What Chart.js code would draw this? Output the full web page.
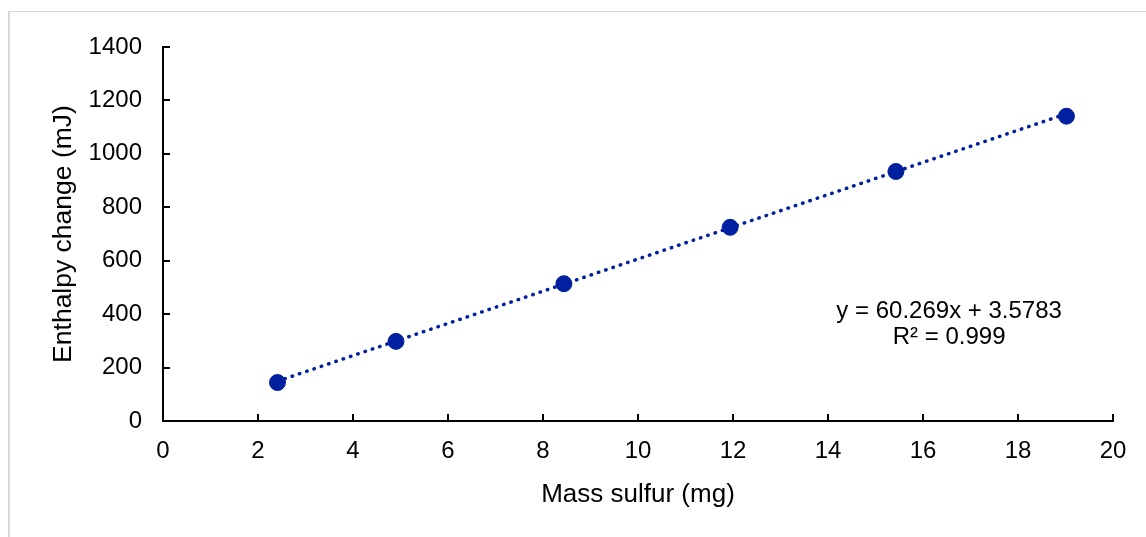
<!DOCTYPE html>
<html>
<head>
<meta charset="utf-8">
<title>Enthalpy change vs mass sulfur</title>
<script src="https://cdn.jsdelivr.net/npm/chart.js@4/dist/chart.umd.min.js"></script>
<style>
  html, body { margin: 0; padding: 0; background: #fff; }
  #wrap { position: relative; width: 1146px; height: 537px; overflow: hidden; }
  #frame { position: absolute; left: 8px; top: 11px; width: 1200px; height: 600px;
           border-left: 2px solid #d9d9d9; border-top: 1px solid #d9d9d9; }
  canvas { position: absolute; left: 0; top: 0; }
</style>
</head>
<body>
<div id="wrap">
  <div id="frame"></div>
  <canvas id="chart" width="1146" height="537"></canvas>
</div>
<script>
// measured points
const massSulfur = [2.41, 4.905, 8.44, 11.94, 15.43, 19.02];
const enthalpy = [144, 298, 514, 725, 934, 1141];

// linear trendline ends, as drawn
const trendX = [2.41, 19.02];
const trendY = [149, 1150];

const equationLines = ["y = 60.269x + 3.5783", "R\u00b2 = 0.999"];

const FONT = "'Liberation Sans', Arial, sans-serif";
const BLUE = "#00209f";

// ticks point inwards, Excel style
const innerTicks = {
  id: "innerTicks",
  afterDraw(chart) {
    const ctx = chart.ctx;
    const x = chart.scales.x, y = chart.scales.y;
    const area = chart.chartArea;
    ctx.save();
    ctx.strokeStyle = "#000";
    ctx.lineWidth = 2;
    ctx.beginPath();
    x.ticks.forEach(t => {
      const px = Math.round(x.getPixelForValue(t.value));
      ctx.moveTo(px, area.bottom);
      ctx.lineTo(px, area.bottom - 7);
    });
    y.ticks.forEach(t => {
      const py = Math.round(y.getPixelForValue(t.value));
      ctx.moveTo(area.left, py);
      ctx.lineTo(area.left + 7, py);
    });
    ctx.stroke();

    // trendline label
    ctx.fillStyle = "#000";
    ctx.font = "24px " + FONT;
    ctx.textAlign = "center";
    ctx.textBaseline = "middle";
    const lx = x.getPixelForValue(16.55);
    ctx.fillText(equationLines[0], lx, y.getPixelForValue(410));
    ctx.fillText(equationLines[1], lx, y.getPixelForValue(313));
    ctx.restore();
  }
};

new Chart(document.getElementById("chart"), {
  type: "scatter",
  data: {
    datasets: [
      {
        label: "Trend",
        data: trendX.map((v, i) => ({ x: v, y: trendY[i] })),
        showLine: true,
        borderColor: BLUE,
        borderWidth: 3.5,
        borderDash: [0.5, 7.2],
        borderCapStyle: "round",
        pointRadius: 0,
        order: 2
      },
      {
        label: "Data",
        data: massSulfur.map((v, i) => ({ x: v, y: enthalpy[i] })),
        backgroundColor: BLUE,
        borderColor: BLUE,
        pointRadius: 8,
        order: 1
      }
    ]
  },
  options: {
    responsive: false,
    animation: false,
    layout: { padding: { top: 47, right: 33, left: 0, bottom: 0 } },
    plugins: { legend: { display: false }, tooltip: { enabled: false } },
    scales: {
      x: {
        type: "linear",
        min: 0, max: 20,
        ticks: { stepSize: 2, color: "#000", font: { family: FONT, size: 24 }, padding: 16, maxRotation: 0,
                 callback: v => String(v) },
        grid: { display: false, drawTicks: false },
        border: { color: "#000", width: 2 },
        title: { display: true, text: "Mass sulfur (mg)", color: "#000",
                 font: { family: FONT, size: 26 }, padding: { top: 0, bottom: 27 } },
        afterFit(scale) { scale.height = 116; }
      },
      y: {
        min: 0, max: 1400,
        ticks: { stepSize: 200, color: "#000", font: { family: FONT, size: 24 }, padding: 21,
                 callback: v => String(v) },
        grid: { display: false, drawTicks: false },
        border: { color: "#000", width: 2 },
        title: { display: true, text: "Enthalpy change (mJ)", color: "#000",
                 font: { family: FONT, size: 26.5 }, padding: { top: 48, bottom: 0 } },
        afterFit(scale) { scale.width = 163; }
      }
    }
  },
  plugins: [innerTicks]
});
</script>
</body>
</html>
